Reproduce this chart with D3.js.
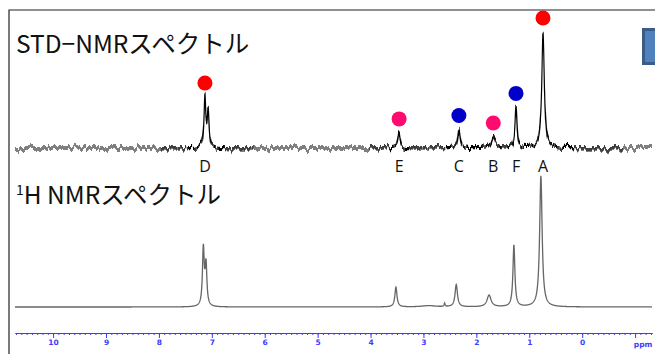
<!DOCTYPE html>
<html>
<head>
<meta charset="utf-8">
<script src="https://cdn.jsdelivr.net/npm/d3@7"></script>
<style>
  body { margin: 0; background: #fff; }
  svg { display: block; }
</style>
</head>
<body>
<div id="chart"></div>
<script>
// peaks (ppm, relative height with A = 100, half width in ppm)
const hPpm    = [7.16, 7.11, 3.52, 2.90, 2.60, 2.38, 1.76, 1.29, 0.78];
const hHeight = [44,   31,   15,   1,    2.6,  17,   9,    47,   100];
const hWidth  = [0.02, 0.02, 0.024, 0.15, 0.01, 0.027, 0.045, 0.022, 0.028];

const stdPpm    = [7.13, 7.07, 3.46, 2.33, 1.68, 1.25, 0.74];
const stdHeight = [44,   31,   13,   16,   9.5,  35,   100];
const stdWidth  = [0.02, 0.02, 0.024, 0.027, 0.045, 0.022, 0.028];

// assignment letters / dots on the STD trace
const labels     = ['D', 'E', 'C', 'B', 'F', 'A'];
const labelPpm   = [7.13, 3.46, 2.33, 1.68, 1.25, 0.74];
const labelTop   = [44, 13, 16, 9.5, 35, 100];
const dotColor   = ['#ff0000', '#ff0a6e', '#0000c8', '#ff0a6e', '#0000c8', '#ff0000'];

const ppmTicks = [10, 9, 8, 7, 6, 5, 4, 3, 2, 1, 0, -1];

const width = 655;
const height = 354;
const axisBlue = '#3c3cff';

const x = d3.scaleLinear().domain([10.72, -1.32]).range([15, 652]);
const yH = d3.scaleLinear().domain([0, 100]).range([307, 176]);
const yStd = d3.scaleLinear().domain([0, 100]).range([148, 32]);

// lorentzian lineshape from a peak list
function spectrum(ppms, heights, widths) {
  const pts = [];
  for (let p = 10.72; p >= -1.32; p -= 0.004) {
    let v = 0;
    for (let i = 0; i < ppms.length; i++) {
      const w = widths[i];
      v += heights[i] * w * w / ((p - ppms[i]) * (p - ppms[i]) + w * w);
    }
    pts.push([p, v]);
  }
  return pts;
}

const svg = d3.select('#chart').append('svg')
  .attr('width', width)
  .attr('height', height);

// noise texture for the STD baseline (vertical displacement only)
const defs = svg.append('defs');
const flt = defs.append('filter')
  .attr('id', 'noise')
  .attr('filterUnits', 'userSpaceOnUse')
  .attr('x', 0).attr('y', 0).attr('width', width).attr('height', height);
flt.append('feTurbulence')
  .attr('type', 'fractalNoise')
  .attr('baseFrequency', '0.3 0.015')
  .attr('numOctaves', 3)
  .attr('seed', 7)
  .attr('result', 'turb');
flt.append('feColorMatrix')
  .attr('in', 'turb')
  .attr('type', 'matrix')
  .attr('values', '0 0 0 0 0.5  0 1 0 0 0  0 0 0 0 0  0 0 0 0 1')
  .attr('result', 'disp');
flt.append('feDisplacementMap')
  .attr('in', 'SourceGraphic')
  .attr('in2', 'disp')
  .attr('scale', 11)
  .attr('xChannelSelector', 'R')
  .attr('yChannelSelector', 'G')
  .attr('result', 'moved');
flt.append('feMorphology')
  .attr('in', 'moved')
  .attr('operator', 'dilate')
  .attr('radius', '0 0.6');

// frame
svg.append('path')
  .attr('d', 'M9,354V10H655')
  .attr('fill', 'none')
  .attr('stroke', '#222')
  .attr('stroke-width', 1.2);

// blue box at the right edge
svg.append('rect')
  .attr('x', 643.5).attr('y', 29.5)
  .attr('width', 20).attr('height', 34)
  .attr('fill', '#4f81bd')
  .attr('stroke', '#3a5c8a')
  .attr('stroke-width', 3);

// titles
svg.append('text')
  .attr('x', 16)
  .attr('y', 53)
  .attr('font-family', '"Noto Sans CJK JP", sans-serif')
  .attr('font-size', 24.5)
  .attr('fill', '#111')
  .text('STD\u2212NMRスペクトル');

const t2 = svg.append('text')
  .attr('x', 16)
  .attr('y', 204)
  .attr('font-family', '"Noto Sans CJK JP", sans-serif')
  .attr('font-size', 24.5)
  .attr('fill', '#111');
t2.append('tspan').attr('font-size', 14).attr('dy', -9).text('1');
t2.append('tspan').attr('dy', 9).text('H NMRスペクトル');

const line = (ys) => d3.line()
  .x(d => x(d[0]))
  .y(d => ys(d[1]));

// STD trace
svg.append('path')
  .datum(spectrum(stdPpm, stdHeight, stdWidth))
  .attr('d', line(yStd))
  .attr('fill', 'none')
  .attr('stroke', '#000')
  .attr('stroke-width', 1.15)
  .attr('filter', 'url(#noise)');

// 1H trace
svg.append('path')
  .datum(spectrum(hPpm, hHeight, hWidth))
  .attr('d', line(yH))
  .attr('fill', 'none')
  .attr('stroke', '#666')
  .attr('stroke-width', 1.3);

// dots
svg.append('g')
  .selectAll('circle')
  .data(labels)
  .join('circle')
  .attr('cx', (d, i) => x(labelPpm[i]))
  .attr('cy', (d, i) => yStd(labelTop[i]) - 14)
  .attr('r', 7.5)
  .attr('fill', (d, i) => dotColor[i]);

// letters
svg.append('g')
  .selectAll('text')
  .data(labels)
  .join('text')
  .attr('x', (d, i) => x(labelPpm[i]))
  .attr('y', 172)
  .attr('text-anchor', 'middle')
  .attr('font-family', '"Open Sans", sans-serif')
  .attr('font-size', 16)
  .attr('fill', '#111')
  .text(d => d);

// ppm axis
const minorTicks = d3.range(107, -133, -1).map(v => v / 10);
const gMinor = svg.append('g')
  .attr('transform', 'translate(0,333)')
  .call(d3.axisBottom(x).tickValues(minorTicks).tickSize(2).tickSizeOuter(0).tickFormat(''));

const gMajor = svg.append('g')
  .attr('transform', 'translate(0,333)')
  .call(d3.axisBottom(x).tickValues(ppmTicks).tickSize(5).tickSizeOuter(0)
    .tickFormat(d => d < 0 ? '' : d));

[gMinor, gMajor].forEach(g => {
  g.select('.domain').attr('stroke', axisBlue).attr('stroke-width', 1.2);
  g.selectAll('.tick line').attr('stroke', axisBlue);
});
gMajor.selectAll('.tick text')
  .attr('y', 7)
  .attr('fill', axisBlue)
  .attr('font-family', '"DejaVu Sans", sans-serif')
  .attr('font-size', 7.5)
  .attr('font-weight', 'bold');

svg.append('text')
  .attr('x', x(-1) + 8)
  .attr('y', 347)
  .attr('text-anchor', 'middle')
  .attr('fill', axisBlue)
  .attr('font-family', '"DejaVu Sans", sans-serif')
  .attr('font-size', 7.5)
  .attr('font-weight', 'bold')
  .text('ppm');
</script>
</body>
</html>
